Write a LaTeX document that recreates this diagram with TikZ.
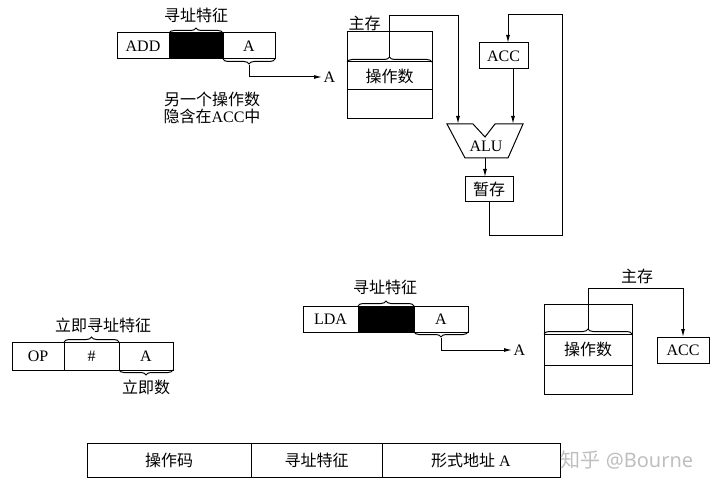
\documentclass[tikz,border=0pt]{standalone}
\usepackage{fontspec}
\setmainfont{Liberation Serif}
\newfontfamily\cjk{Noto Sans CJK SC}
\newfontfamily\wmsans{Noto Sans}
\usetikzlibrary{positioning,arrows.meta,decorations.pathreplacing}

\begin{document}
\begin{tikzpicture}[x=1pt,y=-1pt,line width=1pt,
  font=\fontsize{16}{17.5}\selectfont,
  cell/.style={draw, minimum height=26pt, inner sep=0pt, outer sep=0pt},
  brc/.style={decorate, decoration={brace, amplitude=5pt}},
  arr/.style={-{Latex[length=8pt,width=4pt]}},
  lbl/.style={inner sep=1pt}]
\useasboundingbox (0,0) rectangle (717,489);

% ADD instruction
\node[cell, minimum width=52pt] (add) at (143,46) {ADD};
\node[cell, minimum width=54pt, fill=black, right=0pt of add] (add1) {};
\node[cell, minimum width=52pt, right=0pt of add1] (add2) {A};
\draw[brc] (add1.north west) -- (add1.north east);
\node[lbl] (tz1) at (196,15) {\cjk 寻址特征};
\draw[brc] (add2.south east) -- (add2.south west);
\coordinate (atip1) at ([yshift=-6pt]add2.south);
\node[lbl, anchor=west] (ea1) at (322,77) {A};
\draw[arr] (atip1) |- (ea1.west);
\node[lbl, align=center] (note) at (212,108) {{\cjk 另一个操作数}\\{\cjk 隐含在}ACC{\cjk 中}};

% main memory
\node[cell, minimum width=85pt, minimum height=30pt] (m1) at (389.5,47) {};
\node[cell, minimum width=85pt, minimum height=28pt, below=0pt of m1] (m2) {\cjk 操作数};
\node[cell, minimum width=85pt, minimum height=29pt, below=0pt of m2] (m3) {};
\node[lbl, anchor=south west] (zc1) at (m1.north west) {\cjk 主存};
\draw[brc] (m2.north west) -- (m2.north east);
\coordinate (mtip1) at ([yshift=5pt]m2.north);

% ALU
\coordinate (alu1) at (458,124);
\coordinate (alu2) at (513,124);
\coordinate (aluo) at (485,158);
\draw (447,124) -- (473,124) -- (485,137) -- (495,124) -- (523,124) -- (508,158) -- (465,158) -- cycle;
\node[lbl] (alu) at (486,146) {ALU};
\coordinate (top1) at (458,16);
\draw[arr] (mtip1) |- (top1) -- (alu1);

% ACC and feedback
\node[cell, minimum width=49pt] (acc1) at (503.5,56) {ACC};
\draw[arr] (acc1.south -| alu2) -- (alu2);
\node[cell, minimum width=48pt, minimum height=25pt] (tmp) at (489,189.5) {\cjk 暂存};
\draw[arr] (aluo) -- (aluo |- tmp.north);
\coordinate (fb1) at (562,235);
\coordinate (fb2) at (508,15);
\draw[arr] (tmp.south) |- (fb1) |- (fb2) -- (fb2 |- acc1.north);

% immediate
\node[cell, minimum width=52pt, minimum height=28pt] (op) at (38,356) {OP};
\node[cell, minimum width=55pt, minimum height=28pt, right=0pt of op] (op1) {\#};
\node[cell, minimum width=54pt, minimum height=28pt, right=0pt of op1] (op2) {A};
\draw[brc] (op1.north west) -- (op1.north east);
\node[lbl] (lj1) at (103,325) {\cjk 立即寻址特征};
\draw[brc] (op2.south east) -- (op2.south west);
\node[lbl] (lj2) at (146,387) {\cjk 立即数};

% LDA instruction
\node[cell, minimum width=55pt] (lda) at (330.5,319) {LDA};
\node[cell, minimum width=56pt, fill=black, right=0pt of lda] (lda1) {};
\node[cell, minimum width=54pt, right=0pt of lda1] (lda2) {A};
\draw[brc] (lda1.north west) -- (lda1.north east);
\node[lbl] (tz2) at (385,287) {\cjk 寻址特征};
\draw[brc] (lda2.south east) -- (lda2.south west);
\coordinate (atip2) at ([yshift=-6pt]lda2.south);
\node[lbl, anchor=west] (ea2) at (512,350) {A};
\draw[arr] (atip2) |- (ea2.west);

% memory to ACC
\node[cell, minimum width=88pt, minimum height=30pt] (n1) at (588,319) {};
\node[cell, minimum width=88pt, minimum height=31pt, below=0pt of n1] (n2) {\cjk 操作数};
\node[cell, minimum width=88pt, minimum height=29pt, below=0pt of n2] (n3) {};
\draw[brc] (n2.north west) -- (n2.north east);
\coordinate (mtip2) at ([yshift=5pt]n2.north);
\node[cell, minimum width=52pt] (acc2) at (683,350) {ACC};
\coordinate (top2) at (683,288);
\draw[arr] (mtip2) |- (top2) -- (acc2.north);
\node[lbl] (zc2) at (637,276) {\cjk 主存};

% format
\node[cell, minimum width=164pt, minimum height=34pt] (f1) at (169,460) {\cjk 操作码};
\node[cell, minimum width=131pt, minimum height=34pt, right=0pt of f1] (f2) {\cjk 寻址特征};
\node[cell, minimum width=178pt, minimum height=34pt, right=0pt of f2] (f3) {{\cjk 形式地址} A};
\node[text=gray!50, font=\fontsize{20}{20}\selectfont] (wm) at (627,460) {{\cjk 知乎} {\wmsans @Bourne}};
\end{tikzpicture}
\end{document}
